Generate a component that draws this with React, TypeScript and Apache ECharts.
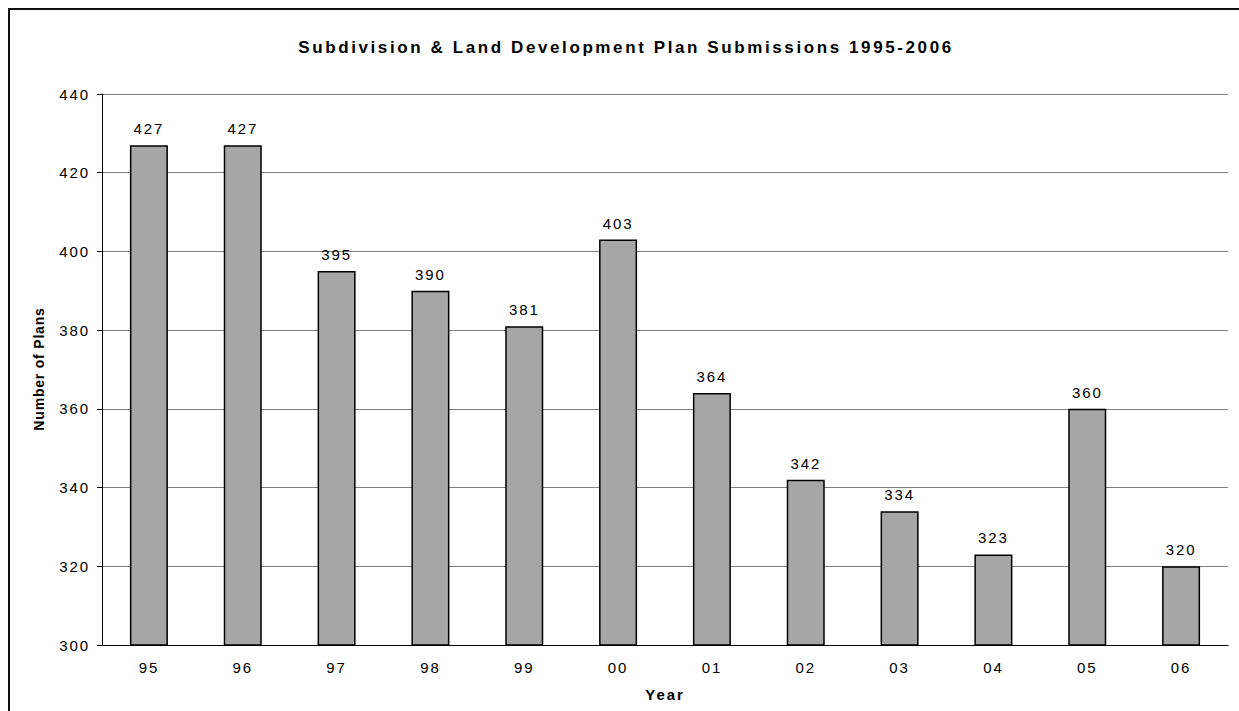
import React, { useEffect, useRef } from "react";
import * as echarts from "echarts";

// Plan submissions per year, 1995–2006
const years = ["95", "96", "97", "98", "99", "00", "01", "02", "03", "04", "05", "06"];
const submissions = [427, 427, 395, 390, 381, 403, 364, 342, 334, 323, 360, 320];

const titleText = "Subdivision & Land Development Plan Submissions 1995-2006";
const xAxisName = "Year";
const yAxisName = "Number of Plans";

const FONT = "'Liberation Sans', Arial, Helvetica, sans-serif";

// The chart's lettering is tracked out; spacing is keyed on each text's font size.
const trackingCss = `
#plans-chart text[style*="17px"] { letter-spacing: 2.6px; }
#plans-chart text[style*="15px"] { letter-spacing: 1.9px; }
#plans-chart text[style*="14px"] { letter-spacing: 0.8px; }
`;

export default function App() {
  const ref = useRef<HTMLDivElement>(null);

  useEffect(() => {
    if (!ref.current) return;
    const chart = echarts.init(ref.current, undefined, { renderer: "svg" });
    chart.setOption({
      animation: false,
      backgroundColor: "#ffffff",
      textStyle: { fontFamily: FONT },
      graphic: [
        {
          type: "rect",
          shape: { x: 9, y: 9, width: 1245, height: 720 },
          style: { fill: "none", stroke: "#111", lineWidth: 2 },
          z: 100,
        },
        {
          type: "text",
          x: 626,
          y: 47,
          style: {
            text: titleText,
            fontFamily: FONT,
            fontWeight: "bold",
            fontSize: 17,
            fill: "#000",
            align: "center",
            verticalAlign: "middle",
          },
        },
        {
          type: "text",
          x: 39,
          y: 369,
          rotation: Math.PI / 2,
          style: {
            text: yAxisName,
            fontFamily: FONT,
            fontWeight: "bold",
            fontSize: 14,
            fill: "#000",
            align: "center",
            verticalAlign: "middle",
          },
        },
        {
          type: "text",
          x: 665,
          y: 694,
          style: {
            text: xAxisName,
            fontFamily: FONT,
            fontWeight: "bold",
            fontSize: 15,
            fill: "#000",
            align: "center",
            verticalAlign: "middle",
          },
        },
      ],
      grid: { left: 102, right: 11, top: 94, bottom: 66, containLabel: false },
      xAxis: {
        type: "category",
        data: years,
        axisLine: { show: true, lineStyle: { color: "#000", width: 1 } },
        axisTick: { show: false },
        axisLabel: { color: "#000", fontSize: 15, fontFamily: FONT, margin: 15 },
        splitLine: { show: false },
      },
      yAxis: {
        type: "value",
        min: 300,
        max: 440,
        interval: 20,
        axisLine: { show: true, lineStyle: { color: "#000", width: 1 } },
        axisTick: { show: true, inside: false, length: 5, lineStyle: { color: "#000" } },
        axisLabel: { color: "#000", fontSize: 15, fontFamily: FONT, margin: 12 },
        splitLine: { show: true, lineStyle: { color: "#808080", width: 1 } },
      },
      series: [
        {
          type: "bar",
          data: submissions,
          barWidth: 38,
          itemStyle: { color: "#a6a6a6", borderColor: "#000", borderWidth: 1.5 },
          label: {
            show: true,
            position: "top",
            distance: 9,
            color: "#000",
            fontSize: 15,
            fontFamily: FONT,
          },
        },
      ],
    });
    return () => chart.dispose();
  }, []);

  return (
    <>
      <style>{trackingCss}</style>
      <div
        id="plans-chart"
        ref={ref}
        style={{ position: "fixed", left: 0, top: 0, width: 1239, height: 711, background: "#fff" }}
      />
    </>
  );
}
